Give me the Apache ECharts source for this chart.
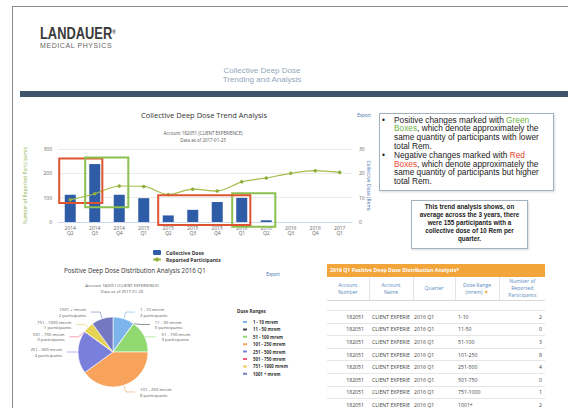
<!DOCTYPE html>
<html>
<head>
<meta charset="utf-8">
<script src="https://cdn.jsdelivr.net/npm/echarts@6/dist/echarts.min.js"></script>
<style>
  body { margin:0; background:#fff; }
  #page { position:relative; width:568px; height:408px; overflow:hidden; background:#fff; font-family:'Liberation Sans', Arial, sans-serif; }
  .frame { position:absolute; left:12px; top:6px; width:600px; height:500px; border:1px solid #8c8c8c; }
  .logo { position:absolute; left:40px; top:25px; font-weight:bold; font-size:16.5px; line-height:16.5px; color:#3b3b3b; transform:scaleX(0.78); transform-origin:left top; white-space:nowrap; }
  .logo sup { font-size:6px; vertical-align:top; position:relative; top:-1px; }
  .logosub { position:absolute; left:40px; top:42px; font-size:7px; line-height:7px; letter-spacing:0.58px; color:#666; white-space:nowrap; }
  .headtitle { position:absolute; left:162px; top:67.4px; width:200px; text-align:center; font-size:8px; line-height:8.7px; color:#94a7bd; }
  .darkbar { position:absolute; left:20px; top:91px; width:548px; height:6px; background:#3e566b; }
  .note1 { position:absolute; left:379px; top:113px; width:173px; height:74px; border:1px solid #a3b1bf; box-shadow:1px 1px 2px rgba(0,0,0,0.15); font-size:8.3px; line-height:8.8px; color:#222; padding-top:1.6px; box-sizing:content-box; white-space:nowrap; }
  .note1 .item { position:relative; padding-left:14px; }
  .note1 .item:before { content:'\2022'; position:absolute; left:2px; top:0; }
  .note1 .g { color:#6db33f; }
  .note1 .r { color:#e8452c; }
  .note2 { position:absolute; left:411px; top:200px; width:115px; height:45px; border:1px solid #a3b1bf; box-shadow:1px 1px 2px rgba(0,0,0,0.15); font-weight:bold; font-size:6.3px; line-height:8px; color:#222; text-align:center; padding-top:1.5px; white-space:nowrap; }
  .tbl { position:absolute; left:327px; top:264px; width:218px; font-family:'Open Sans', sans-serif; }
  .tbl .cap { height:13px; line-height:13px; background:#f2a53a; color:#fff; font-weight:bold; font-size:5.2px; padding-left:3px; white-space:nowrap; }
  .tbl table { border-collapse:collapse; table-layout:fixed; width:218px; }
  .tbl th { height:23px; padding:0; font-weight:normal; font-size:5.1px; line-height:6.7px; color:#5a8ac0; text-align:center; vertical-align:middle; border-right:1px solid #e4e4e4; border-bottom:1px solid #d8d8d8; }
  .tbl th:last-child { border-right:none; }
  .tbl td { height:11.6px; padding:0; font-size:5.2px; line-height:6px; color:#444; border-bottom:1px solid #e6e6e6; white-space:nowrap; overflow:hidden; }
  .tbl tr.spacer td { height:9px; }
  .tbl .arrow { color:#f2a53a; }
</style>
</head>
<body>
<div id="page">
  <div class="frame"></div>
  <div class="logo">LANDAUER<sup>®</sup></div>
  <div class="logosub">MEDICAL PHYSICS</div>
  <div class="headtitle">Collective Deep Dose<br>Trending and Analysis</div>
  <div class="darkbar"></div>
  <div class="note1">
    <div class="item">Positive changes marked with <span class="g">Green<br>Boxes</span>, which denote approximately the<br>same quantity of participants with lower<br>total Rem.</div>
    <div class="item">Negative changes marked with <span class="r">Red<br>Boxes</span>, which denote approximately the<br>same quantity of participants but higher<br>total Rem.</div>
  </div>
  <div class="note2">This trend analysis shows, on<br>average across the 3 years, there<br>were 155 participants with a<br>collective dose of 10 Rem per<br>quarter.</div>
  <div class="tbl">
    <div class="cap">2016 Q1 Positive Deep Dose Distribution Analysis*</div>
    <table id="tbl"></table>
  </div>
  <div id="chart" style="position:absolute;left:0;top:0;width:568px;height:408px"></div>
</div>
<script>
// trend chart data
const quarters = ['2014\nQ2', '2014\nQ3', '2014\nQ4', '2015\nQ1', '2015\nQ2', '2015\nQ3', '2015\nQ4', '2016\nQ1', '2016\nQ2', '2016\nQ3', '2016\nQ4', '2017\nQ1']
const collectiveDose = [11.2, 23.8, 11.2, 9.8, 2.7, 5.0, 8.2, 9.9, 0.7, null, null, null]
const reportedParticipants = [91, 116, 148, 146, 113, 135, 127, 165, 181, 200, 211, 204]
// distribution data (2016 Q1)
const doseRanges = ['1-10', '11-50', '51-100', '101-250', '251-500', '501-750', '751-1000', '1001+']
const rangeNames = ['1 - 10 mrem', '11 - 50 mrem', '51 - 100 mrem', '101 - 250 mrem', '251 - 500 mrem', '501 - 750 mrem', '751 - 1000 mrem', '1001 + mrem']
const participantsByRange = [2, 0, 3, 8, 4, 0, 1, 2]
const accountNumber = '182051'
const accountNameShown = 'CLIENT EXPERIE'   // the report cuts the name off in this column
const quarterLabel = '2016 Q1'

const pieColors = ['#7cb5ec', '#434348', '#90d870', '#f7a35c', '#7b7fdc', '#f15c80', '#e4d354', '#7478c2']
const red = '#dd5430', green = '#8cc04f'
// annotation boxes: category index range and Rem range (right axis)
const boxes = [
  { c: red, i0: -0.45, i1: 1.31, v0: 26.1, v1: 7.8 },
  { c: green, i0: 0.61, i1: 2.37, v0: 26.5, v1: 6.1 },
  { c: green, i0: 6.61, i1: 8.37, v0: 11.8, v1: -2.0 },
  { c: red, i0: 3.59, i1: 7.35, v0: 11.0, v1: -1.2 }
]

// table
const tbl = document.getElementById('tbl')
let html = '<colgroup><col style="width:42px"><col style="width:44px"><col style="width:42px"><col style="width:44px"><col style="width:46px"></colgroup>'
html += '<tr><th>Account<br>Number</th><th>Account<br>Name</th><th>Quarter</th><th>Dose Range<br>(mrem) <span class="arrow">&#9660;</span></th><th>Number of<br>Reported<br>Participants</th></tr>'
html += '<tr class="spacer"><td></td><td></td><td></td><td></td><td></td></tr>'
doseRanges.forEach((r, i) => {
  html += '<tr><td style="text-align:right;padding-right:5px">' + accountNumber + '</td>' +
    '<td style="padding-left:3px">' + accountNameShown + '</td>' +
    '<td style="padding-left:1px">' + quarterLabel + '</td>' +
    '<td style="padding-left:3px">' + r + '</td>' +
    '<td style="text-align:right;padding-right:3px">' + participantsByRange[i] + '</td></tr>'
})
tbl.innerHTML = html

const font = "'Open Sans', sans-serif"
const chart = echarts.init(document.getElementById('chart'), null, { renderer: 'svg' })
chart.setOption({
  animation: false,
  textStyle: { fontFamily: font },
  legend: [{
    data: ['Collective Dose', 'Reported Participants'],
    orient: 'vertical', left: 147, top: 245, itemWidth: 8, itemHeight: 5, itemGap: 2,
    textStyle: { fontSize: 5, fontWeight: 'bold', color: '#333' }
  }, {
    data: rangeNames,
    orient: 'vertical', left: 236, top: 314, itemWidth: 6, itemHeight: 4, itemGap: 1.4,
    textStyle: { fontSize: 4.3, fontWeight: 'bold', color: '#333' }
  }],
  grid: { left: 58, top: 149, width: 294, height: 73 },
  xAxis: {
    type: 'category', data: quarters,
    axisLine: { lineStyle: { color: '#ccd6eb' } },
    axisTick: { length: 3, lineStyle: { color: '#ccd6eb' } },
    axisLabel: { fontSize: 5, color: '#666', lineHeight: 5.5, margin: 3 }
  },
  yAxis: [{
    type: 'value', min: 0, max: 300, interval: 100, position: 'left',
    name: 'Number of Reported Participants', nameLocation: 'middle', nameGap: 31, nameMoveOverlap: false,
    nameTextStyle: { fontSize: 5, color: '#93b04a' },
    axisLabel: { fontSize: 5, color: '#666', margin: 6 },
    splitLine: { lineStyle: { color: '#e6e6e6', width: 0.8 } }
  }, {
    type: 'value', min: 0, max: 30, interval: 10, position: 'right',
    name: 'Collective Dose (Rem)', nameLocation: 'middle', nameGap: 14, nameRotate: -90, nameMoveOverlap: false,
    nameTextStyle: { fontSize: 5, color: '#4a6fb0' },
    axisLabel: { fontSize: 5, color: '#666', margin: 7 },
    splitLine: { show: false }
  }],
  series: [{
    name: 'Collective Dose', type: 'bar', yAxisIndex: 1, data: collectiveDose,
    barWidth: 11, itemStyle: { color: '#2f5ca6' }
  }, {
    name: 'Reported Participants', type: 'line', yAxisIndex: 0, data: reportedParticipants,
    smooth: 0.3, symbol: 'circle', symbolSize: 3.5,
    lineStyle: { color: '#a3bd4a', width: 1.2 }, itemStyle: { color: '#8fae3a' }
  }, {
    type: 'pie', center: [113, 352], radius: 35, startAngle: 90,
    data: rangeNames.map((n, i) => ({ name: n, value: participantsByRange[i], itemStyle: { color: pieColors[i] } })),
    label: { formatter: '{b}\n{c} participants', fontSize: 4.3, color: '#555', lineHeight: 5.2 },
    labelLine: { length: 7, length2: 9, lineStyle: { width: 0.6 } },
    itemStyle: { borderColor: '#fff', borderWidth: 0.6 }
  }]
})

// texts and annotation boxes placed through the chart's own scales
const x0 = chart.convertToPixel({ xAxisIndex: 0 }, quarters[0])
const band = chart.convertToPixel({ xAxisIndex: 0 }, quarters[1]) - x0
const yPx = v => chart.convertToPixel({ yAxisIndex: 1 }, v)
const txt = (text, x, y, size, fill, extra) => Object.assign({
  type: 'text', x: x, y: y, z: 50,
  style: Object.assign({ text: text, fontSize: size, fill: fill, fontFamily: font, align: 'center', verticalAlign: 'middle' }, extra || {})
})
chart.setOption({
  graphic: [
    txt('Collective Deep Dose Trend Analysis', 204, 115, 7.5, '#333'),
    txt('Account 182051 (CLIENT EXPERIENCE)', 203, 133, 4.5, '#555'),
    txt('Data as of 2017-01-23', 203, 139.5, 4.5, '#555'),
    txt('Export', 364, 115, 4.5, '#3366aa'),
    txt('Positive Deep Dose Distribution Analysis 2016 Q1', 64, 270, 6.2, '#333', { align: 'left' }),
    txt('Export', 273, 274, 4.5, '#3366aa'),
    txt('Account 182051 (CLIENT EXPERIENCE)', 122, 285, 4.2, '#555'),
    txt('Data as of 2017-01-23', 122, 291, 4.2, '#555'),
    txt('Dose Ranges', 237, 311, 4.6, '#333', { align: 'left', fontWeight: 'bold' })
  ].concat(boxes.map(b => ({
    type: 'rect', z: 60,
    shape: {
      x: x0 + b.i0 * band, y: yPx(b.v0),
      width: (b.i1 - b.i0) * band, height: yPx(b.v1) - yPx(b.v0)
    },
    style: { fill: 'none', stroke: b.c, lineWidth: 2 }
  })))
})
</script>
</body>
</html>
